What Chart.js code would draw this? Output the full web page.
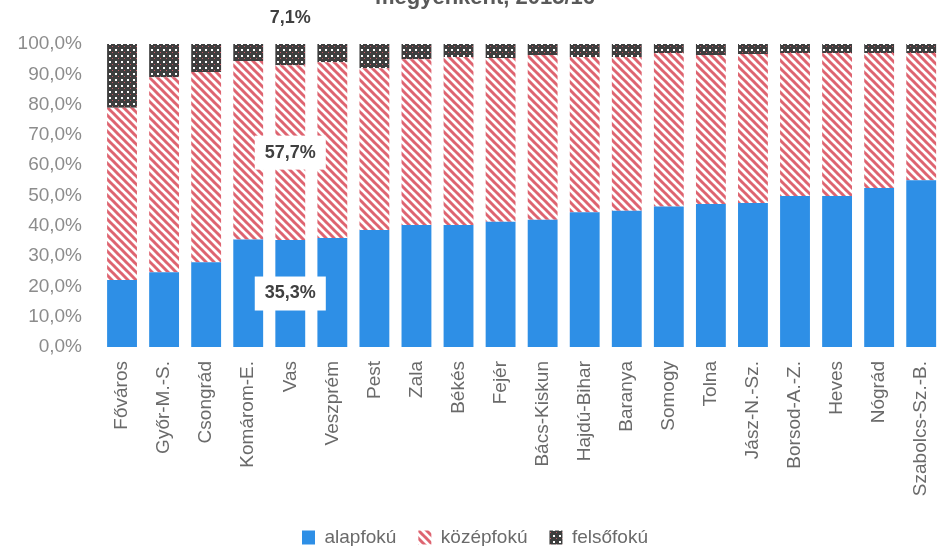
<!DOCTYPE html>
<html>
<head>
<meta charset="utf-8">
<script src="https://cdn.jsdelivr.net/npm/chart.js@4/dist/chart.umd.min.js"></script>
<style>
html, body { margin: 0; padding: 0; background: #fff; overflow: hidden; }
#wrap { width: 950px; height: 546px; }
</style>
</head>
<body>
<div id="wrap"><canvas id="chart" width="950" height="546"></canvas></div>
<script>
// DATA
let categories = ['Főváros', 'Győr-M.-S.', 'Csongrád', 'Komárom-E.', 'Vas', 'Veszprém', 'Pest', 'Zala', 'Békés', 'Fejér',
    'Bács-Kiskun', 'Hajdú-Bihar', 'Baranya', 'Somogy', 'Tolna', 'Jász-N.-Sz.', 'Borsod-A.-Z.', 'Heves', 'Nógrád', 'Szabolcs-Sz.-B.'];
let alapfoku = [22.1, 24.7, 28.0, 35.5, 35.3, 36.0, 38.6, 40.3, 40.3, 41.3, 42.0, 44.5, 45.0, 46.4, 47.2, 47.5, 49.8, 49.8, 52.5, 55.0];
let kozepfoku = [56.9, 64.3, 62.8, 58.9, 57.7, 58.0, 53.4, 54.7, 55.4, 54.1, 54.4, 51.2, 50.7, 50.6, 49.2, 49.2, 47.2, 47.2, 44.5, 42.0];
let felsofoku = [21.0, 11.0, 9.2, 5.6, 7.1, 6.0, 8.0, 5.0, 4.3, 4.6, 3.6, 4.3, 4.3, 3.0, 3.6, 3.3, 3.0, 3.0, 3.0, 3.0];
let seriesNames = ['alapfokú', 'középfokú', 'felsőfokú'];
let yTicks = [0, 10, 20, 30, 40, 50, 60, 70, 80, 90, 100];
let labeledIndex = 4; // Vas

const FONT = 'Liberation Sans';

// PATTERNS
function hatchPattern(){
    let c = document.createElement('canvas');
    c.width = 8; c.height = 8;
    let x = c.getContext('2d');
    x.fillStyle = '#ffffff';
    x.fillRect(0, 0, 8, 8);
    x.strokeStyle = '#de6470';
    x.lineWidth = 3;
    for (let o of [-8, 0, 8]) {
        x.beginPath();
        x.moveTo(o - 1, -1);
        x.lineTo(o + 9, 9);
        x.stroke();
    }
    return x.createPattern(c, 'repeat');
}

function dotPattern(){
    let c = document.createElement('canvas');
    c.width = 6; c.height = 6;
    let x = c.getContext('2d');
    x.fillStyle = '#3e3e3e';
    x.fillRect(0, 0, 6, 6);
    x.fillStyle = '#ffffff';
    x.fillRect(1, 1, 2, 2);
    x.fillStyle = '#c95a66';
    x.fillRect(4, 4, 1, 1);
    return x.createPattern(c, 'repeat');
}

let pct = v => v.toFixed(1).replace('.', ',') + '%';

// partly cut-off title at the very top
const topTitle = {
    id: 'topTitle',
    afterDraw(chart){
        let ctx = chart.ctx;
        ctx.save();
        ctx.font = 'bold 22px ' + FONT;
        ctx.fillStyle = '#595959';
        ctx.textAlign = 'center';
        ctx.textBaseline = 'alphabetic';
        ctx.fillText('megyénként, 2015/16', 485, 4, 280);
        ctx.restore();
    }
};

// value labels on the Vas bar
const valueLabels = {
    id: 'valueLabels',
    afterDatasetsDraw(chart){
        let ctx = chart.ctx;
        let xs = chart.scales.x, ys = chart.scales.y;
        let cx = xs.getPixelForValue(labeledIndex);
        let a = alapfoku[labeledIndex], k = kozepfoku[labeledIndex], f = felsofoku[labeledIndex];
        ctx.save();
        ctx.font = 'bold 18px ' + FONT;
        ctx.textAlign = 'center';
        ctx.textBaseline = 'middle';

        function boxed(text, y){
            let w = ctx.measureText(text).width + 20;
            ctx.fillStyle = '#ffffff';
            ctx.fillRect(cx - w / 2, y - 17, w, 34);
            ctx.fillStyle = '#404040';
            ctx.fillText(text, cx, y);
        }
        boxed(pct(a), ys.getPixelForValue(a / 2));
        boxed(pct(k), ys.getPixelForValue(a + k / 2));
        ctx.fillStyle = '#404040';
        ctx.fillText(pct(f), cx, ys.getPixelForValue(100) - 26);
        ctx.restore();
    }
};

let ctx = document.querySelector('#chart').getContext('2d');

let chart = new Chart(ctx, {
    type: 'bar',
    data: {
        labels: categories,
        datasets: [
            { label: seriesNames[0], data: alapfoku, backgroundColor: '#2e8fe6' },
            { label: seriesNames[1], data: kozepfoku, backgroundColor: hatchPattern() },
            { label: seriesNames[2], data: felsofoku, backgroundColor: dotPattern() }
        ]
    },
    options: {
        responsive: false,
        animation: false,
        layout: { padding: { top: 44, left: 0, right: 0, bottom: -11 } },
        datasets: { bar: { barPercentage: 0.71, categoryPercentage: 1 } },
        scales: {
            x: {
                stacked: true,
                grid: { display: false },
                border: { display: false },
                ticks: {
                    minRotation: 90, maxRotation: 90, autoSkip: false,
                    color: '#6a6a6a', padding: 6,
                    font: { size: 19, family: FONT }
                },
                afterFit(scale){ scale.height = 159; }
            },
            y: {
                stacked: true,
                min: 0, max: 100,
                afterBuildTicks(scale){ scale.ticks = yTicks.map(v => ({ value: v })); },
                grid: { display: false },
                border: { display: false },
                ticks: {
                    color: '#8c8c8c', padding: 11,
                    font: { size: 19, family: FONT },
                    callback: v => pct(v)
                },
                afterFit(scale){ scale.width = 101; }
            }
        },
        plugins: {
            legend: {
                position: 'bottom',
                labels: {
                    boxWidth: 13, boxHeight: 14,
                    color: '#6a6a6a', padding: 22,
                    font: { size: 19, family: FONT }
                }
            },
            tooltip: { enabled: false }
        }
    },
    plugins: [topTitle, valueLabels]
});
</script>
</body>
</html>
